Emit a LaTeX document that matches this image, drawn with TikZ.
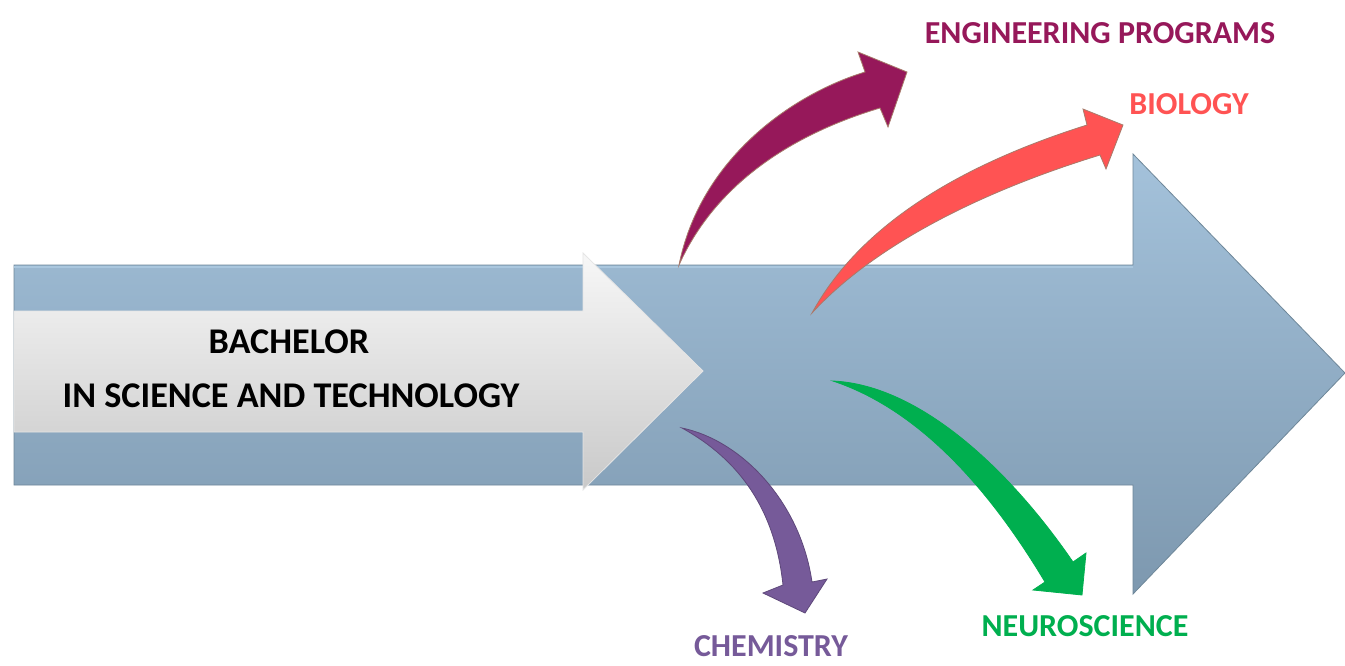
\documentclass[tikz,border=0pt]{standalone}
\usepackage{fontspec}
\setmainfont{Carlito}
\definecolor{bigtop}{HTML}{A4C2DB}
\definecolor{bigbot}{HTML}{7D98AF}
\definecolor{bigedge}{HTML}{6E8799}
\definecolor{wtop}{HTML}{F7F7F7}
\definecolor{wbot}{HTML}{C9C9C9}
\definecolor{engc}{HTML}{96185A}
\definecolor{bioc}{HTML}{FF5353}
\definecolor{chemc}{HTML}{765A99}
\definecolor{neuc}{HTML}{00AF4F}
\definecolor{rimc}{HTML}{A87A6A}
\tikzset{
  bigarrow/.style={top color=bigtop, bottom color=bigbot, draw=bigedge, line width=0.4pt},
  whitearrow/.style={top color=wtop, bottom color=wbot, draw=white!80!gray, line width=0.4pt},
  curvearrow/.style={draw=rimc, line width=0.4pt, line join=miter},
  maintext/.style={font=\fontsize{18.1}{21}\selectfont\bfseries, text=black, inner sep=0pt},
  lbl/.style={font=\fontsize{16}{19}\selectfont\bfseries, inner sep=0pt}
}
\begin{document}
\begin{tikzpicture}[x=0.5pt, y=-0.5pt]
\useasboundingbox (0,0) rectangle (1345,665);
\fill[white] (0,0) rectangle (1345,665);
% big blue arrow
\path[bigarrow] (14,265) -- (1133,265) -- (1133,154) -- (1345,373) -- (1133,594) -- (1133,485) -- (14,485) -- cycle;
\draw[white!60!cyan!30!bigtop, line width=1.2pt] (14,267) -- (1133,267);
% white arrow
\path[whitearrow] (14,311) -- (583,311) -- (583,253) -- (703,371) -- (583,490) -- (583,432) -- (14,432) -- cycle;
% engineering arrow
\path[curvearrow, fill=engc] (679,265) .. controls (700,160) and (790,95) .. (865,72)
  -- (858,52) -- (907,72) -- (888,127) -- (880,108)
  .. controls (790,135) and (715,185) .. (679,265) -- cycle;
% biology arrow
\path[curvearrow, fill=bioc] (812,313) .. controls (860,225) and (960,165) .. (1087,125)
  -- (1083,109) -- (1123,125) -- (1106,169) -- (1100,155)
  .. controls (970,195) and (870,250) .. (812,313) -- cycle;
% chemistry arrow
\path[curvearrow, draw=chemc!80!black, fill=chemc] (682,428) .. controls (740,440) and (800,500) .. (812,582)
  -- (827,579) -- (805,613) -- (763,593) -- (783,585)
  .. controls (775,510) and (740,460) .. (682,428) -- cycle;
% neuroscience arrow
\path[curvearrow, draw=neuc, fill=neuc] (833,381) .. controls (920,385) and (1010,470) .. (1073,562)
  -- (1086,553) -- (1082,595) -- (1033,590) -- (1045,582)
  .. controls (990,490) and (920,410) .. (833,381) -- cycle;
% texts
\node[maintext] (bach) at (289,342) {BACHELOR};
\node[maintext] (ist) at (291,396) {IN SCIENCE AND TECHNOLOGY};
\node[lbl, text=engc] (eng) at (1100,33) {ENGINEERING PROGRAMS};
\node[lbl, text=bioc] (bio) at (1189,104) {BIOLOGY};
\node[lbl, text=chemc] (chem) at (771,646) {CHEMISTRY};
\node[lbl, text=neuc] (neu) at (1085,626) {NEUROSCIENCE};
\end{tikzpicture}
\end{document}
